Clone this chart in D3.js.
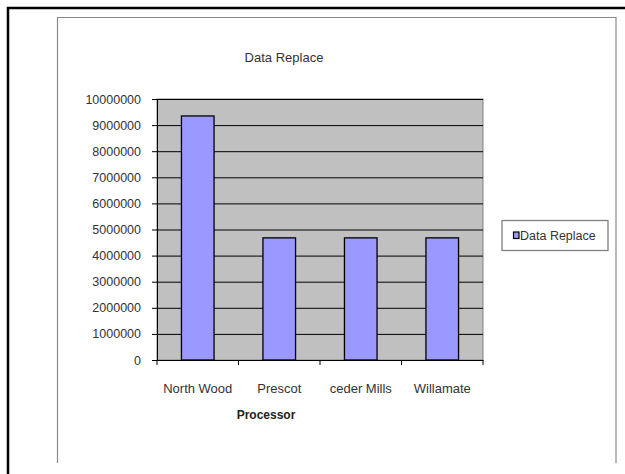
<!DOCTYPE html>
<html><head><meta charset="utf-8">
<script src="https://cdn.jsdelivr.net/npm/d3@7"></script>
<style>
body{margin:0;background:#fff;}
svg{display:block;font-family:"Liberation Sans",Arial,sans-serif;}
</style></head>
<body><svg id="c" width="625" height="474"></svg>
<script>
const categories = ["North Wood", "Prescot", "ceder Mills", "Willamate"];
const values = [9350000, 4680000, 4680000, 4680000];
const yTicks = [0,1000000,2000000,3000000,4000000,5000000,6000000,7000000,8000000,9000000,10000000];
const seriesName = "Data Replace";
const chartTitle = "Data Replace";
const xTitle = "Processor";

const svg = d3.select("#c");
// outer frame (top + left)
svg.append("path").attr("d","M8,474 V8 H625").attr("fill","none").attr("stroke","#000").attr("stroke-width",2.5);
// inner chart area frame
svg.append("path").attr("d","M57.5,463 V17.5 H616 V463").attr("fill","none").attr("stroke","#8a8a8a").attr("stroke-width",1.2);

const L=157, R=483, T=99, B=360;
const x = d3.scaleBand().domain(categories).range([L,R]).padding(0);
const y = d3.scaleLinear().domain([0,10000000]).range([B,T]);

// plot background
svg.append("rect").attr("x",L).attr("y",T).attr("width",R-L).attr("height",B-T)
  .attr("fill","#c0c0c0").attr("stroke","#808080").attr("stroke-width",1);

// gridlines
const grid = svg.append("g").attr("transform",`translate(${L},0)`)
  .call(d3.axisLeft(y).tickValues(yTicks.filter(d=>d>0)).tickSize(-(R-L)).tickFormat(""));
grid.select(".domain").remove();
grid.selectAll("line").attr("stroke","#000").attr("stroke-width",1);

// bars
const bw = x.bandwidth()*0.4;
svg.append("g").selectAll("rect").data(values).join("rect")
  .attr("x",(d,i)=>x(categories[i])+x.bandwidth()/2-bw/2)
  .attr("y",d=>y(d)).attr("width",bw).attr("height",d=>B-y(d))
  .attr("fill","#9999ff").attr("stroke","#000").attr("stroke-width",1.3);

// y axis
const ya = svg.append("g").attr("transform",`translate(${L},0)`)
  .call(d3.axisLeft(y).tickValues(yTicks).tickSize(5).tickPadding(11).tickFormat(d3.format("d")));
ya.select(".domain").attr("stroke","#000");
ya.selectAll("line").attr("stroke","#000");
ya.selectAll("text").attr("font-size","12.5px").attr("fill","#333").attr("font-family","Liberation Sans, Arial, sans-serif");

// x axis
const xa = svg.append("g").attr("transform",`translate(0,${B})`)
  .call(d3.axisBottom(x).tickSize(0).tickSizeOuter(0).tickPadding(23.5));
xa.select(".domain").attr("stroke","#000");
xa.selectAll("text").attr("font-size","13px").attr("fill","#333").attr("font-family","Liberation Sans, Arial, sans-serif");
// boundary tick marks
const bounds = categories.map(c=>x(c)).concat([R]);
svg.append("g").selectAll("line").data(bounds).join("line")
  .attr("x1",d=>d).attr("x2",d=>d).attr("y1",B).attr("y2",B+5).attr("stroke","#000");

// titles
svg.append("text").attr("x",284).attr("y",57).attr("dy","0.35em").attr("text-anchor","middle")
  .attr("font-size","13px").attr("fill","#333").text(chartTitle);
svg.append("text").attr("x",266).attr("y",415).attr("dy","0.35em").attr("text-anchor","middle")
  .attr("font-size","12px").attr("font-weight","bold").attr("fill","#222").text(xTitle);

// legend
const lg = svg.append("g");
lg.append("rect").attr("x",502).attr("y",220.5).attr("width",106).attr("height",30)
  .attr("fill","#fff").attr("stroke","#808080").attr("stroke-width",1.3);
lg.append("rect").attr("x",513.5).attr("y",232).attr("width",5.5).attr("height",6.5)
  .attr("fill","#9999ff").attr("stroke","#000").attr("stroke-width",1.2);
lg.append("text").attr("x",520).attr("y",235.5).attr("dy","0.35em")
  .attr("font-size","12.5px").attr("fill","#333").text(seriesName);
</script></body></html>
